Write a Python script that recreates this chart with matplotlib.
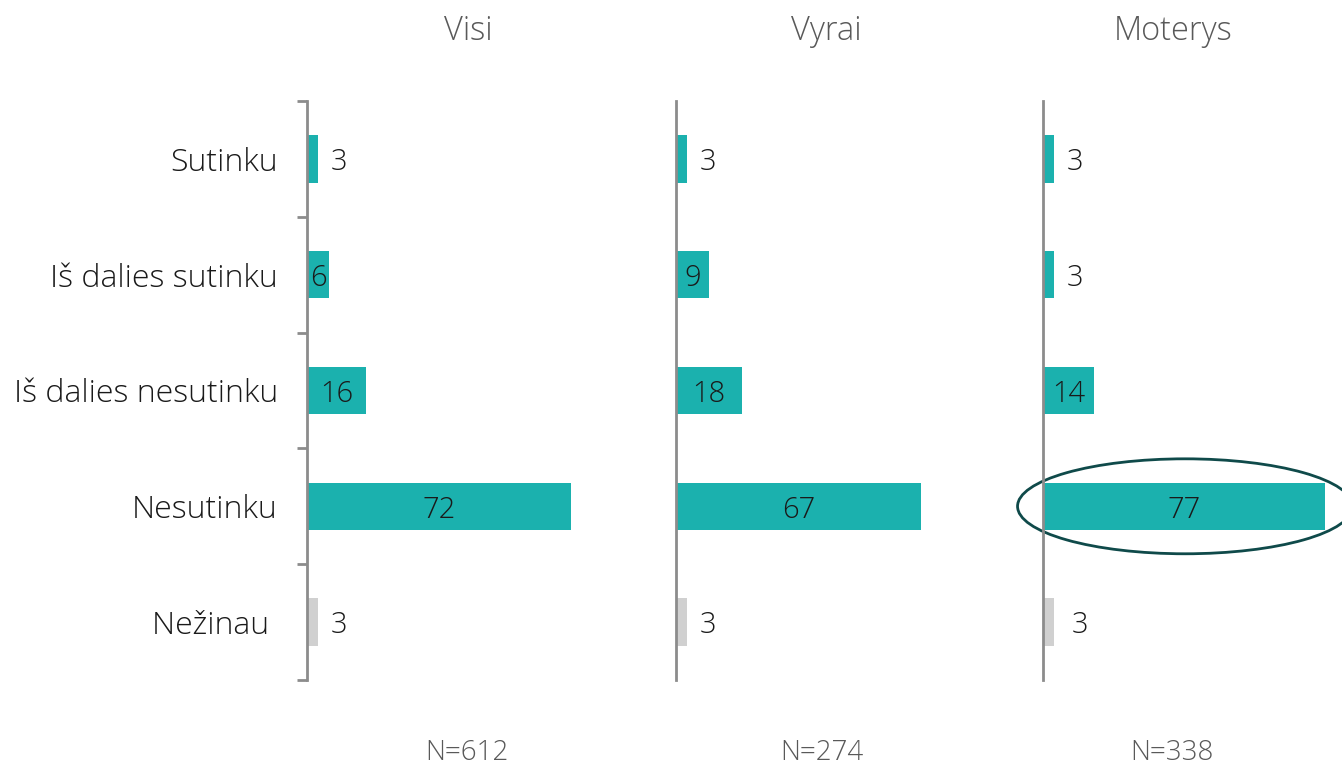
import matplotlib.pyplot as plt
from matplotlib.patches import Ellipse

plt.rcParams['font.family'] = ['Open Sans', 'DejaVu Sans']

categories = ['Sutinku', 'Iš dalies sutinku', 'Iš dalies nesutinku', 'Nesutinku', 'Nežinau ']
groups = ['Visi', 'Vyrai', 'Moterys']
sample_sizes = ['N=612', 'N=274', 'N=338']
visi = [3, 6, 16, 72, 3]
vyrai = [3, 9, 18, 67, 3]
moterys = [3, 3, 14, 77, 3]
series = [visi, vyrai, moterys]

teal = '#1bb1ae'
grey = '#d0d0d0'
axis_grey = '#8c8c8c'
text_grey = '#595959'

W, H = 1342, 767
fig = plt.figure(figsize=(W / 100, H / 100), dpi=100)

spine_x = [307, 676, 1043]
title_x = [468, 826, 1173]
n_x = [467, 822, 1172]
top_px, bottom_px = 101, 680
width_px = 293  # 80 units -> ~3.66 px per unit

for i, vals in enumerate(series):
    ax = fig.add_axes([spine_x[i] / W, 1 - bottom_px / H, width_px / W, (bottom_px - top_px) / H])
    ax.set_xlim(0, 80)
    ax.set_ylim(4.5, -0.5)
    y = list(range(len(categories)))
    colors = [teal] * 4 + [grey]
    ax.barh(y, vals, height=0.41, color=colors)
    for yy, v in zip(y, vals):
        if v <= 3:
            xpos = v + 5.7 + (1.5 if (i == 2 and yy == 4) else 0)
        else:
            xpos = v / 2
        ax.text(xpos, yy + 0.03, str(v), ha='center', va='center', fontsize=21,
                fontweight='light', color='#1a1a1a')
    for s in ['top', 'right', 'bottom']:
        ax.spines[s].set_visible(False)
    ax.spines['left'].set_color(axis_grey)
    ax.spines['left'].set_linewidth(2)
    ax.set_xticks([])
    if i == 0:
        ax.set_yticks([k - 0.5 for k in range(6)])
        ax.set_yticklabels([])
        ax.tick_params(axis='y', which='major', length=7, width=2, color=axis_grey)
        ax.set_yticks(y, minor=True)
        ax.set_yticklabels(categories, minor=True, fontsize=23, fontweight='light', color='#1a1a1a')
        ax.tick_params(axis='y', which='minor', length=0, pad=21)
    else:
        ax.set_yticks([])
    if i == 2:
        ax.add_patch(Ellipse((38.8, 3), 91.5, 0.82, fill=False, edgecolor='#0f4a4a',
                             linewidth=2, clip_on=False))
    fig.text(title_x[i] / W, 1 - 31 / H, groups[i], ha='center', va='center',
             fontsize=23.5, fontweight='light', color=text_grey)
    fig.text(n_x[i] / W, 1 - 753 / H, sample_sizes[i], ha='center', va='center',
             fontsize=20, fontweight='light', color=text_grey)

fig.savefig('out.png', dpi=100)
